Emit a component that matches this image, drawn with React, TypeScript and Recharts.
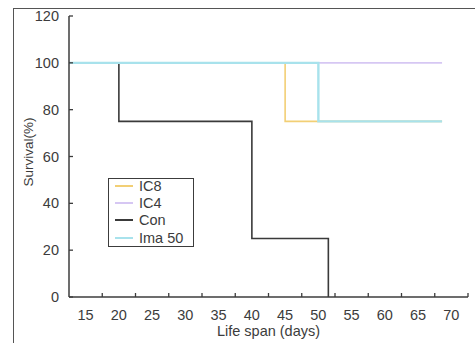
import { LineChart, Line, XAxis, YAxis, Legend } from 'recharts'

const X_TICKS = [15, 17.5, 20, 22.5, 25, 27.5, 30, 32.5, 35, 37.5, 40, 42.5, 45, 47.5, 50, 52.5, 55, 57.5, 60, 62.5, 65, 67.5, 70, 72.5]
const Y_TICKS = [0, 20, 40, 60, 80, 100, 120]

// survival curves (day, %)
const con = [
  { day: 12.5, survival: 100 },
  { day: 20, survival: 75 },
  { day: 40, survival: 25 },
  { day: 51.5, survival: 0 },
]
const ic4 = [
  { day: 12.5, survival: 100 },
  { day: 68.6, survival: 100 },
]
const ic8 = [
  { day: 12.5, survival: 100 },
  { day: 45, survival: 75 },
  { day: 68.6, survival: 75 },
]
const ima50 = [
  { day: 12.5, survival: 100 },
  { day: 50, survival: 75 },
  { day: 68.6, survival: 75 },
]

const LEGEND_ORDER = ['IC8', 'IC4', 'Con', 'Ima 50']
const COLORS: { [k: string]: string } = {
  IC8: '#f2cf75',
  IC4: '#d6c7f3',
  Con: '#3a3a3a',
  'Ima 50': '#a8e2ec',
}

const FONT = '"Liberation Sans", Arial, sans-serif'
const INK = '#3c3c3c'

const XTick = (props: any) => {
  const { x, y, payload } = props
  if (payload.value % 5 !== 0) {
    const axisY = y - 13
    return <line x1={x} x2={x} y1={axisY} y2={axisY - 4} stroke={INK} strokeWidth={1.3} />
  }
  return (
    <text x={x} y={y} dy="0.71em" textAnchor="middle" fill={INK} fontSize={14.5} fontFamily={FONT}>
      {payload.value}
    </text>
  )
}

const LegendBox = () => (
  <div
    style={{
      width: 84,
      height: 67,
      border: `1.5px solid ${INK}`,
      fontFamily: FONT,
      fontSize: 14.5,
      color: INK,
      background: 'white',
      overflow: 'hidden',
    }}
  >
    <div style={{ marginTop: -2 }}>
      {LEGEND_ORDER.map(name => (
        <div key={name} style={{ display: 'flex', alignItems: 'center', height: 17.3 }}>
          <div style={{ width: 18, height: name === 'Con' ? 1.6 : 2, background: COLORS[name], marginLeft: 6, marginRight: 6 }} />
          <span>{name}</span>
        </div>
      ))}
    </div>
  </div>
)

export default function App() {
  return (
    <div style={{ position: 'absolute', left: 0, top: 0, width: 475, height: 343, background: 'white', overflow: 'hidden' }}>
      <div
        style={{
          position: 'absolute',
          left: 13,
          top: 8,
          width: 500,
          height: 400,
          borderLeft: `1.5px solid #555`,
          borderTop: `1.5px solid #555`,
        }}
      />
      <LineChart width={475} height={343} margin={{ top: 16, right: 7, bottom: 6, left: 19 }}>
        <XAxis
          dataKey="day"
          type="number"
          domain={[12.5, 72.5]}
          ticks={X_TICKS}
          interval={0}
          allowDataOverflow
          height={40}
          tickLine={false}
          tickSize={4}
          tickMargin={9}
          tick={<XTick />}
          axisLine={{ stroke: INK, strokeWidth: 1.5 }}
          label={{
            content: (p: any) => {
              const vb = p.viewBox
              return (
                <text x={vb.x + vb.width / 2} y={331} dy="0.35em" textAnchor="middle" fill={INK} fontSize={14.5} fontFamily={FONT}>
                  Life span (days)
                </text>
              )
            },
          }}
        />
        <YAxis
          dataKey="survival"
          type="number"
          domain={[0, 120]}
          ticks={Y_TICKS}
          interval={0}
          width={50}
          tickSize={-4}
          tickMargin={14}
          tickLine={{ stroke: INK, strokeWidth: 1.3 }}
          axisLine={{ stroke: INK, strokeWidth: 1.5 }}
          tick={{ fill: INK, fontSize: 14.5, fontFamily: FONT }}
          label={{
            content: () => {
              const cy = 152
              return (
                <text x={28} y={cy} transform={`rotate(-90, 28, ${cy})`} dy="0.35em" textAnchor="middle" fill={INK} fontSize={13.5} fontFamily={FONT}>
                  Survival(%)
                </text>
              )
            },
          }}
        />
        <Line data={con} dataKey="survival" name="Con" type="stepAfter" stroke={COLORS.Con} strokeWidth={1.6} dot={false} isAnimationActive={false} />
        <Line data={ic4} dataKey="survival" name="IC4" type="stepAfter" stroke={COLORS.IC4} strokeWidth={1.8} dot={false} isAnimationActive={false} />
        <Line data={ic8} dataKey="survival" name="IC8" type="stepAfter" stroke={COLORS.IC8} strokeWidth={1.6} dot={false} isAnimationActive={false} />
        <Line data={ima50} dataKey="survival" name="Ima 50" type="stepAfter" stroke={COLORS['Ima 50']} strokeWidth={2.4} dot={false} isAnimationActive={false} />
        <Legend
          content={<LegendBox />}
          layout="horizontal"
          verticalAlign="middle"
          align="center"
          wrapperStyle={{ position: 'absolute', left: 108, top: 178, width: 'auto' }}
        />
      </LineChart>
    </div>
  )
}
